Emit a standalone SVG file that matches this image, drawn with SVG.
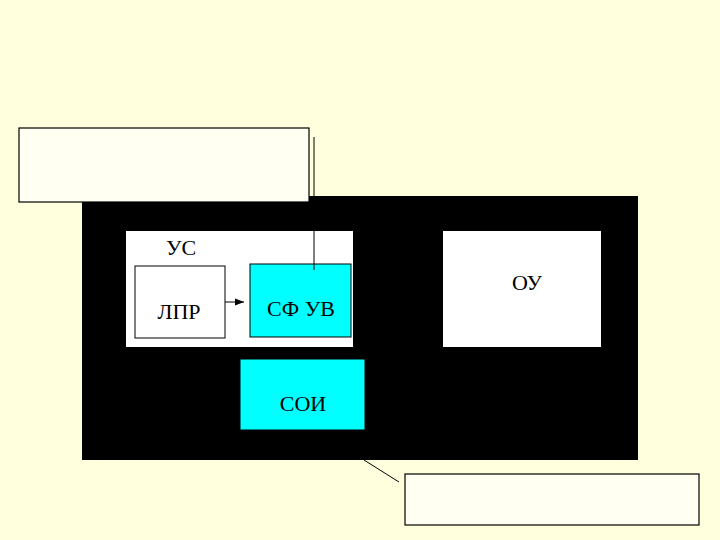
<svg xmlns="http://www.w3.org/2000/svg" width="720" height="540" viewBox="0 0 720 540">
<style>
text{font-family:"Liberation Serif","DejaVu Serif",serif;font-size:22px;fill:#000;text-anchor:middle}
.callout{fill:#FFFFF2;stroke:#000;stroke-width:1.2}
.cyan{fill:#00FFFF;stroke:#000;stroke-width:1}
.white{fill:#FFFFFF}
.conn{stroke:#000;stroke-width:1;fill:none}
</style>
<defs>
<marker id="ah" markerWidth="9" markerHeight="8" refX="9" refY="4" orient="auto" markerUnits="userSpaceOnUse">
<path d="M0,0.5 L9,4 L0,7.5 Z" fill="#000"/>
</marker>
</defs>
<rect width="720" height="540" fill="#FFFFDD"/>
<g id="system">
<rect x="82" y="196" width="556" height="264" fill="#000"/>
</g>
<g id="callout-top">
<rect class="callout" x="19" y="128" width="290" height="74"/>
</g>
<g id="us">
<rect class="white" x="126" y="231" width="227" height="116"/>
<text x="181" y="255">УС</text>
</g>
<g id="lpr">
<rect x="135" y="266" width="90" height="72" fill="#fff" stroke="#000" stroke-width="1"/>
<text x="179" y="319">ЛПР</text>
</g>
<g id="sfuv">
<rect class="cyan" x="250" y="264" width="101" height="73"/>
<text x="301" y="316">СФ УВ</text>
</g>
<g id="soi">
<rect class="cyan" x="240" y="359" width="125" height="71" stroke="none"/>
<text x="303" y="411">СОИ</text>
</g>
<g id="ou">
<rect class="white" x="443" y="231" width="158" height="116"/>
<text x="527" y="290">ОУ</text>
</g>
<g id="callout-bottom">
<rect class="callout" x="405" y="474" width="294" height="51"/>
</g>
<g id="connectors">
<line class="conn" x1="314" y1="137" x2="314" y2="270"/>
<line class="conn" x1="225" y1="302" x2="244" y2="302" marker-end="url(#ah)"/>
<line class="conn" x1="364" y1="460" x2="399" y2="482"/>
</g>
</svg>
